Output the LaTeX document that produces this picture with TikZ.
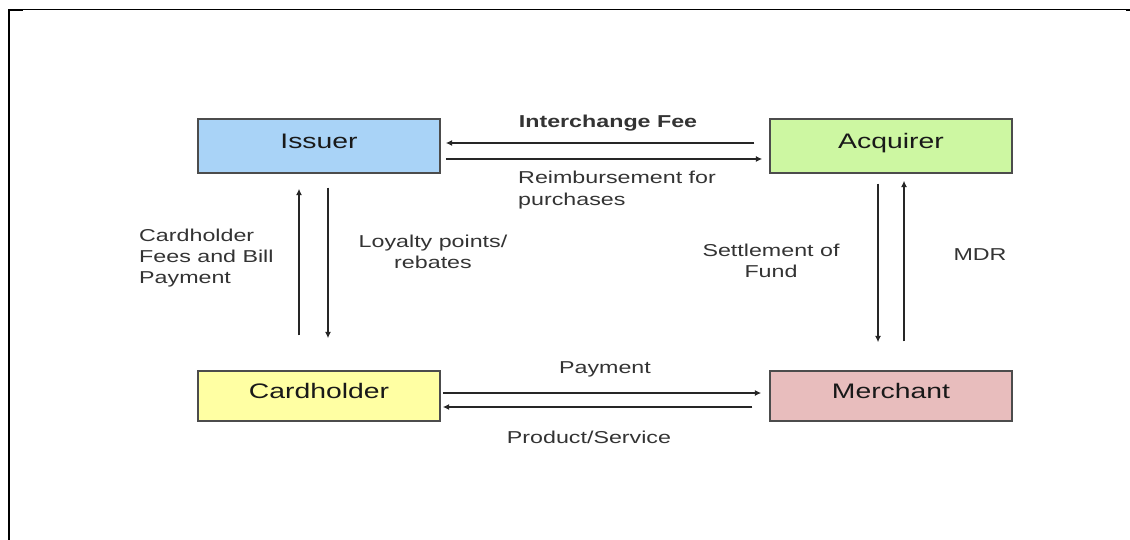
\documentclass[tikz,border=0pt]{standalone}
\usepackage{fontspec}
\setmainfont{Liberation Sans}[FakeStretch=1.35]
\usepackage{xcolor}
\usetikzlibrary{arrows.meta}
\definecolor{issuerblue}{HTML}{A9D3F7}
\definecolor{acqgreen}{HTML}{CDF7A2}
\definecolor{cardyellow}{HTML}{FFFFA3}
\definecolor{merchpink}{HTML}{E8BDBD}

\begin{document}
\begin{tikzpicture}[
  entity/.style={draw=black!70, line width=0.85pt, minimum width=4.84cm, minimum height=1.08cm,
    text height=0.3cm, text depth=0.2cm, font=\fontsize{11.95}{14}\selectfont, text=black!90},
  flow/.style={black!85, line width=0.7pt, -{Latex[length=3.6pt,width=3.4pt]}},
  lbl/.style={font=\fontsize{9.8}{12.2}\selectfont, text=black!80, align=left}]
\useasboundingbox (0,0) rectangle (22.6,-10.8);
\draw[line width=1.1pt] (0.175,-10.8) -- (0.175,-0.19);
\draw[line width=0.6pt] (0.16,-0.19) -- (22.6,-0.19);
\draw[line width=1.1pt] (0.16,-0.2) -- (0.46,-0.2);
\draw[line width=1.1pt] (22.52,-0.2) -- (22.6,-0.2);

\node[entity, fill=issuerblue] (iss) at (6.38,-2.92) {Issuer};
\node[entity, fill=acqgreen] (acq) at (17.82,-2.92) {Acquirer};
\node[entity, fill=cardyellow, minimum height=1.0cm] (card) at (6.38,-7.92) {Cardholder};
\node[entity, fill=merchpink, minimum height=1.0cm] (merch) at (17.82,-7.92) {Merchant};

\draw[flow] ([xshift=-0.3cm,yshift=0.06cm]acq.west) -- ([xshift=0.1cm,yshift=0.06cm]iss.east);
\draw[flow] ([xshift=0.1cm,yshift=-0.26cm]iss.east) -- ([xshift=-0.14cm,yshift=-0.26cm]acq.west);
\draw[flow] ([xshift=-0.4cm,yshift=0.7cm]card.north) -- ([xshift=-0.4cm,yshift=-0.3cm]iss.south);
\draw[flow] ([xshift=0.18cm,yshift=-0.28cm]iss.south) -- ([xshift=0.18cm,yshift=0.64cm]card.north);
\draw[flow] ([xshift=-0.26cm,yshift=-0.2cm]acq.south) -- ([xshift=-0.26cm,yshift=0.56cm]merch.north);
\draw[flow] ([xshift=0.26cm,yshift=0.58cm]merch.north) -- ([xshift=0.26cm,yshift=-0.14cm]acq.south);
\draw[flow] ([xshift=0.04cm,yshift=0.06cm]card.east) -- ([xshift=-0.16cm,yshift=0.06cm]merch.west);
\draw[flow] ([xshift=-0.34cm,yshift=-0.22cm]merch.west) -- ([xshift=0.04cm,yshift=-0.22cm]card.east);

\node[lbl, font=\fontsize{9.8}{12.2}\selectfont\bfseries] (fee) at (12.16,-2.46) {Interchange Fee};
\node[lbl, anchor=west] (reimb) at (10.24,-3.8) {Reimbursement for\\purchases};
\node[lbl, anchor=west] (cfees) at (2.66,-5.16) {Cardholder\\Fees and Bill\\Payment};
\node[lbl, align=center] (loyal) at (8.66,-5.04) {Loyalty points/\\rebates};
\node[lbl, align=center] (settle) at (15.42,-5.22) {Settlement of\\Fund};
\node[lbl] (mdr) at (19.6,-5.1) {MDR};
\node[lbl] (pay) at (12.1,-7.38) {Payment};
\node[lbl] (prod) at (11.78,-8.74) {Product/Service};
\end{tikzpicture}
\end{document}
